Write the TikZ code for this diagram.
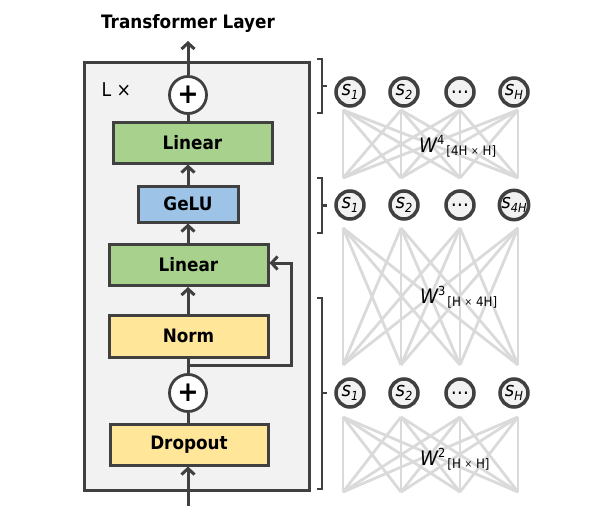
\documentclass[tikz,border=0pt]{standalone}
\usepackage{fontspec}
\setmainfont{DejaVu Sans}[FakeStretch=0.91]
\usetikzlibrary{arrows.meta}
\definecolor{dk}{HTML}{404040}
\definecolor{grn}{HTML}{A9D18E}
\definecolor{blu}{HTML}{9DC3E6}
\definecolor{ylw}{HTML}{FFE699}
\definecolor{bgg}{HTML}{F2F2F2}
\definecolor{msh}{HTML}{DADADA}
\newcommand\nsub[1]{\raisebox{-4pt}{\fontsize{12.5}{12.5}\selectfont #1}}
\newcommand\wlab[3]{{\fontsize{20}{20}\selectfont\itshape W}\raisebox{7.5pt}{\fontsize{12.5}{12.5}\selectfont #1}\hspace{2pt}\raisebox{-3pt}{\fontsize{13}{13}\selectfont [#2 \raisebox{0.5pt}{\fontsize{10}{10}\selectfont ×} #3]}}
\begin{document}
\begin{tikzpicture}[x=1pt,y=-1pt,
  blk/.style={draw=dk,line width=3pt,minimum height=41pt,inner sep=0pt,
    font=\fontsize{18.5}{18.5}\selectfont\bfseries,text=black},
  plus/.style={circle,draw=dk,fill=white,line width=2.8pt,minimum size=37pt,inner sep=0pt,
    font=\fontsize{28}{28}\selectfont\bfseries},
  flow/.style={draw=dk,line width=3pt},
  arr/.style={flow,-{Straight Barb[length=6pt,width=13pt]}},
  neuron/.style={circle,draw=dk,fill=bgg,line width=3.5pt,minimum size=28pt,inner sep=0pt,
    font=\fontsize{20}{20}\selectfont\itshape},
  mesh/.style={draw=msh,line width=2.8pt},
  brk/.style={draw=dk,line width=2.8pt},
  wl/.style={anchor=base west,inner sep=0pt}
]
\useasboundingbox (0,0) rectangle (598,506);

% outer box
\node[draw=dk,fill=bgg,line width=2.8pt,minimum width=225pt,minimum height=428pt,
  anchor=north west,inner sep=0pt] (outer) at (83,61) {};

\node[font=\fontsize{18.5}{18.5}\selectfont\bfseries] (title) at (188,23) {Transformer Layer};
\node[anchor=west,font=\fontsize{19}{19}\selectfont] (lx) at (98,90) {L ×};

% blocks
\node[plus] (p1) at (188,95) {+};
\node[blk,fill=grn,minimum width=159pt] (lin1) at (192.5,142.5) {Linear};
\node[blk,fill=blu,minimum width=100pt,minimum height=36pt] (gelu) at (188,204) {GeLU};
\node[blk,fill=grn,minimum width=159pt] (lin2) at (188.5,265) {Linear};
\node[blk,fill=ylw,minimum width=159pt,minimum height=42pt] (norm) at (188.5,336) {Norm};
\node[plus] (p2) at (188,393) {+};
\node[blk,fill=ylw,minimum width=158pt] (drop) at (189,444.5) {Dropout};

\coordinate (out) at (188,41);
\coordinate (in) at (188,508);
\coordinate (j) at (188,365);
\coordinate (k) at (291,263);

\draw[flow] (lin1.north -| p1) -- (p1);
\draw[arr] (p1) -- (out);
\draw[arr] (gelu.north) -- (gelu.north |- lin1.south);
\draw[arr] (lin2.north -| gelu) -- (gelu.south);
\draw[arr] (norm.north -| gelu) -- (lin2.south -| gelu);
\draw[flow] (p2) -- (norm.south -| p2);
\draw[flow] (drop.north -| p2) -- (p2);
\draw[arr] (in) -- (drop.south -| in);
\draw[arr] (j) -| (k) -- (k -| lin2.east);

% meshes
\foreach \i/\x in {1/343,2/401,3/460,4/518}{
  \coordinate (m1-t\i) at (\x,110); \coordinate (m1-b\i) at (\x,178);
  \coordinate (m2-t\i) at (\x,228); \coordinate (m2-b\i) at (\x,365);
  \coordinate (m3-t\i) at (\x,417); \coordinate (m3-b\i) at (\x,492);
}
\foreach \m in {1,2,3}{
  \foreach \i in {1,...,4}{
    \foreach \j in {1,...,4}{
      \draw[mesh] (m\m-t\i) -- (m\m-b\j);
    }
  }
}

% neurons
\node[neuron] (a1) at (350,92) {s\nsub{1}};
\node[neuron] (a2) at (404,92) {s\nsub{2}};
\node[neuron] (a3) at (460,92) {\upshape …};
\node[neuron] (a4) at (514,92) {s\nsub{H}};
\node[neuron] (b1) at (350,205) {s\nsub{1}};
\node[neuron] (b2) at (404,205) {s\nsub{2}};
\node[neuron] (b3) at (460,205) {\upshape …};
\node[neuron] (b4) at (514,205) {s\nsub{4H}};
\node[neuron] (c1) at (350,393) {s\nsub{1}};
\node[neuron] (c2) at (404,393) {s\nsub{2}};
\node[neuron] (c3) at (460,393) {\upshape …};
\node[neuron] (c4) at (514,393) {s\nsub{H}};

% weight labels
\node[wl] (w4) at (419,152) {\wlab{4}{4H}{H}};
\node[wl] (w3) at (420,303) {\wlab{3}{H}{4H}};
\node[wl] (w2) at (420,465) {\wlab{2}{H}{H}};

% brackets
\draw[brk] (317,59) -- (322,59) -- (322,113) -- (317,113);
\draw[brk] (322,86) -- (327,86);
\draw[brk] (317,178) -- (322,178) -- (322,233) -- (317,233);
\draw[brk] (322,205.5) -- (327,205.5);
\draw[brk] (317,298) -- (322,298) -- (322,489) -- (317,489);
\draw[brk] (322,393) -- (327,393);
\end{tikzpicture}
\end{document}
